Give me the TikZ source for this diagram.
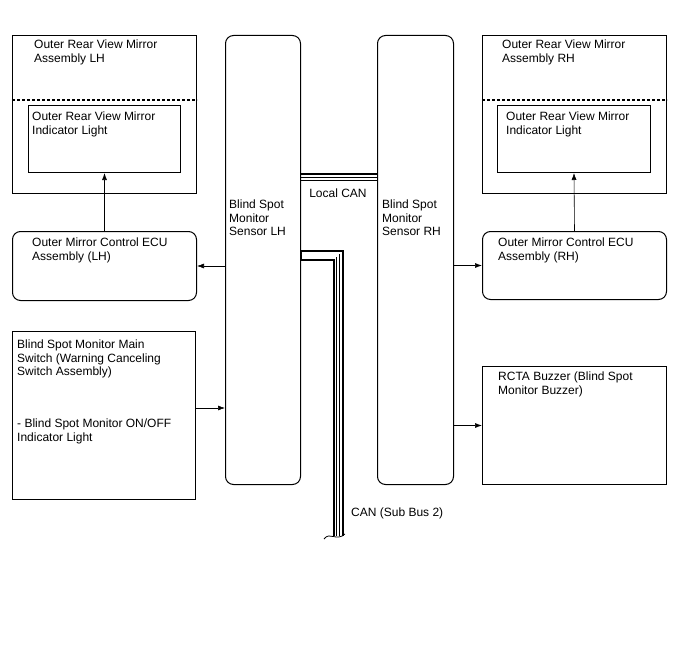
\documentclass[tikz,border=0pt]{standalone}
\usepackage{fontspec}
\setmainfont{Liberation Sans}
\usetikzlibrary{arrows.meta,positioning}

\begin{document}
\begin{tikzpicture}[
  x=1pt,y=-1pt,
  font=\fontsize{12}{13.5}\selectfont,
  box/.style={draw,line width=1pt,anchor=north west,inner sep=0pt},
  rbox/.style={box,rounded corners=8pt},
  txt/.style={inner sep=0pt,align=left},
  arr/.style={->,line width=.6pt},
  canthin/.style={line width=.6pt},
  >={Latex[length=7pt,width=5pt]}
]
\useasboundingbox (0,0) rectangle (688,658);

% Mirror assemblies
\node[box,minimum width=184pt,minimum height=158pt] (mirL) at (12,35) {};
\node[box,minimum width=152pt,minimum height=67pt] (litL) at (28,105) {};
\node[box,minimum width=184pt,minimum height=158pt] (mirR) at (482,35) {};
\node[box,minimum width=153pt,minimum height=67pt] (litR) at (497,105) {};
\draw[line width=1.2pt,dash pattern=on 3pt off 2pt] (mirL.west |- 0,100) -- (mirL.east |- 0,100);
\draw[line width=1.2pt,dash pattern=on 3pt off 2pt] (mirR.west |- 0,100) -- (mirR.east |- 0,100);
\node[txt,below right=5pt and 22pt of mirL.north west] (mirLt) {Outer Rear View Mirror\\Assembly LH};
\node[txt,below right=7pt and 4pt of litL.north west] (litLt) {Outer Rear View Mirror\\Indicator Light};
\node[txt,below right=5pt and 20pt of mirR.north west] (mirRt) {Outer Rear View Mirror\\Assembly RH};
\node[txt,below right=7pt and 9pt of litR.north west] (litRt) {Outer Rear View Mirror\\Indicator Light};

% Sensors
\node[rbox,minimum width=75pt,minimum height=449pt] (snsL) at (225,35) {};
\node[rbox,minimum width=76pt,minimum height=449pt] (snsR) at (377,35) {};
\node[txt,below right=165pt and 4pt of snsL.north west] (snsLt) {Blind Spot\\Monitor\\Sensor LH};
\node[txt,below right=165pt and 5pt of snsR.north west] (snsRt) {Blind Spot\\Monitor\\Sensor RH};

% ECUs
\node[rbox,minimum width=184pt,minimum height=69pt] (ecuL) at (12,231) {};
\node[rbox,minimum width=184pt,minimum height=68pt] (ecuR) at (482,231) {};
\node[txt,below right=7pt and 20pt of ecuL.north west] (ecuLt) {Outer Mirror Control ECU\\Assembly (LH)};
\node[txt,below right=7pt and 16pt of ecuR.north west] (ecuRt) {Outer Mirror Control ECU\\Assembly (RH)};

% Switch and buzzer
\node[box,minimum width=183pt,minimum height=168pt] (swL) at (12,331) {};
\node[box,minimum width=184pt,minimum height=118pt] (bzR) at (482,366) {};
\node[txt,below right=9pt and 5pt of swL.north west] (swLt) {Blind Spot Monitor Main\\Switch (Warning Canceling\\Switch Assembly)};
\node[txt,below right=88pt and 5pt of swL.north west] (swLi) {- Blind Spot Monitor ON/OFF\\Indicator Light};
\node[txt,below right=6pt and 16pt of bzR.north west] (bzRt) {RCTA Buzzer (Blind Spot\\Monitor Buzzer)};

% Arrows
\draw[arr] (ecuL.north) -- (litL.south);
\draw[arr] (ecuR.north) -- (litR.south);
\draw[arr] (snsL.west |- ecuL.east) -- (ecuL.east);
\draw[arr] (snsR.east |- ecuR.west) -- (ecuR.west);
\draw[arr] (swL.east |- 0,408) -- (snsL.west |- 0,408);
\draw[arr] (snsR.east |- bzR.west) -- (bzR.west);

% Local CAN
\draw[line width=1.8pt] (snsL.east |- 0,174) -- (snsR.west |- 0,174);
\draw[canthin] (snsL.east |- 0,177.5) -- (snsR.west |- 0,177.5);
\draw[canthin] (snsL.east |- 0,180.5) -- (snsR.west |- 0,180.5);
\node[txt] (lcan) at (338,193) {Local CAN};

% CAN (Sub Bus 2)
\coordinate (cut) at (338,536);
\draw[line width=11pt] (snsL.east |- 0,255.5) -| (cut);
\draw[line width=7pt,white] ([xshift=.6pt]snsL.east |- 0,255.5) -| (cut);
\draw[line width=.6pt,double,double distance=2.2pt] ([xshift=.6pt]snsL.east |- 0,255.5) -| (cut);
\draw[line width=.8pt] (324,539) .. controls (330,531) and (336,542) .. (345,534);
\node[txt,anchor=west] (scan) at (351,513) {CAN (Sub Bus 2)};
\end{tikzpicture}
\end{document}
